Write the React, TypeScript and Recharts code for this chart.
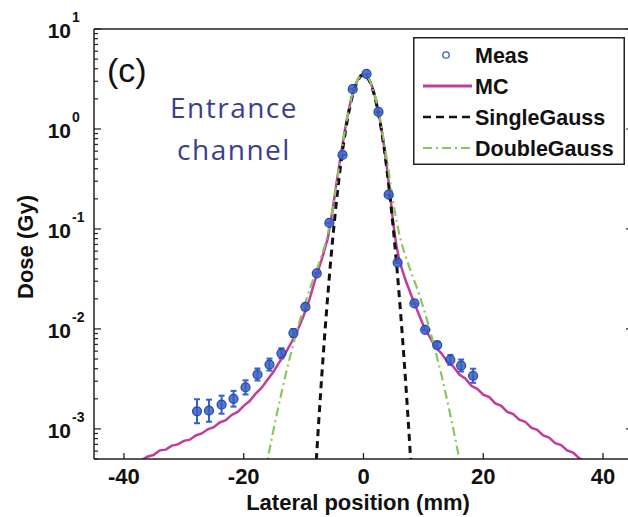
import { ComposedChart, Line, Scatter, XAxis, YAxis, ErrorBar, Legend } from "recharts";

const FONT = "'Liberation Sans', Arial, Helvetica, sans-serif";

const xTicks = [-40, -20, 0, 20, 40];
const yTicks = [
  0.0005, 0.0006, 0.0007, 0.0008, 0.0009,
  0.001, 0.002, 0.003, 0.004, 0.005, 0.006, 0.007, 0.008, 0.009,
  0.01, 0.02, 0.03, 0.04, 0.05, 0.06, 0.07, 0.08, 0.09,
  0.1, 0.2, 0.3, 0.4, 0.5, 0.6, 0.7, 0.8, 0.9,
  1, 2, 3, 4, 5, 6, 7, 8, 9, 10,
];

// measured points (Meas), with asymmetric error bars
const measX = [-27.8, -25.8, -23.7, -21.7, -19.7, -17.7, -15.7, -13.7, -11.7, -9.7, -7.8, -5.7, -3.5, -1.8, 0.5, 2.5, 4.2, 5.7, 8.5, 10.3, 12.3, 14.5, 16.3, 18.3];
const measY = [0.0015, 0.00152, 0.00175, 0.002, 0.0026, 0.0035, 0.0044, 0.0057, 0.0091, 0.0166, 0.036, 0.115, 0.55, 2.5, 3.55, 1.48, 0.22, 0.046, 0.018, 0.0098, 0.0069, 0.0049, 0.0043, 0.0034];
const measErrLow = [0.00036, 0.00034, 0.00033, 0.00033, 0.00039, 0.00045, 0.00057, 0.00062, 0.0008, 0.0011, 0, 0, 0, 0, 0, 0, 0, 0, 0, 0, 0.00046, 0.00053, 0.00055, 0.00051];
const measErrHigh = [0.00048, 0.00044, 0.0004, 0.0004, 0.00046, 0.00052, 0.00065, 0.0007, 0.00087, 0.0012, 0, 0, 0, 0, 0, 0, 0, 0, 0, 0, 0.0005, 0.0006, 0.00064, 0.0006];

// Monte Carlo
const mcX = [-37, -36, -35, -34, -33, -32, -31, -30, -29, -28, -27, -26, -25, -24, -23, -22, -21, -20, -19, -18, -17, -16, -15, -14, -13, -12, -11, -10, -9, -8, -7, -6, -5.5, -5, -4.5, -4, -3.5, -3, -2.5, -2, -1.5, -1, -0.5, 0, 0.5, 1, 1.5, 2, 2.5, 3, 3.5, 4, 4.5, 5, 5.5, 6, 7, 8, 9, 10, 11, 12, 13, 14, 15, 16, 17, 18, 19, 20, 21, 22, 23, 24, 25, 26, 27, 28, 29, 30, 31, 32, 33, 34, 35, 36, 37];
const mcY = [0.00049, 0.00053, 0.00055, 0.00061, 0.00062, 0.00068, 0.0007, 0.00076, 0.00078, 0.00086, 0.0009, 0.00099, 0.00104, 0.00116, 0.00122, 0.00138, 0.00148, 0.0017, 0.0019, 0.00226, 0.00258, 0.00312, 0.00375, 0.0047, 0.00575, 0.0074, 0.0097, 0.0135, 0.02, 0.032, 0.049, 0.079, 0.115, 0.18, 0.29, 0.45, 0.7, 1.06, 1.52, 2.06, 2.6, 3.08, 3.42, 3.53, 3.42, 3.08, 2.6, 2.04, 1.48, 1.0, 0.63, 0.37, 0.205, 0.11, 0.068, 0.048, 0.031, 0.0215, 0.0152, 0.0108, 0.0084, 0.0066, 0.0057, 0.0047, 0.0042, 0.0035, 0.0032, 0.0027, 0.00252, 0.0022, 0.00208, 0.0018, 0.0017, 0.00148, 0.00141, 0.00124, 0.00118, 0.00103, 0.00098, 0.00086, 0.00082, 0.00072, 0.00069, 0.00061, 0.00058, 0.00051, 0.00047];

// single Gaussian fit
const sgX = [-8, -7.5, -7, -6.5, -6, -5.5, -5, -4.5, -4, -3.5, -3, -2.5, -2, -1.5, -1, -0.5, 0, 0.5, 1, 1.5, 2, 2.5, 3, 3.5, 4, 4.5, 5, 5.5, 6, 6.5, 7, 7.5, 8];
const sgY = [0.00037, 0.00113, 0.0032, 0.0084, 0.0204, 0.0465, 0.098, 0.194, 0.356, 0.61, 0.97, 1.43, 1.98, 2.54, 3.03, 3.38, 3.5, 3.38, 3.03, 2.54, 1.98, 1.43, 0.97, 0.61, 0.356, 0.194, 0.098, 0.0465, 0.0204, 0.0084, 0.0032, 0.00113, 0.00037];

// double Gaussian fit
const dgX = [-17, -16, -15, -14, -13, -12, -11, -10, -9, -8, -7, -6.5, -6, -5.5, -5, -4.5, -4, -3.5, -3, -2.5, -2, -1.5, -1, -0.5, 0, 0.5, 1, 1.5, 2, 2.5, 3, 3.5, 4, 4.5, 5, 5.5, 6, 6.5, 7, 8, 9, 10, 11, 12, 13, 14, 15, 16, 17];
const dgY = [0.00024, 0.0005, 0.001, 0.0019, 0.0035, 0.0061, 0.0102, 0.0163, 0.025, 0.036, 0.054, 0.067, 0.087, 0.121, 0.18, 0.284, 0.45, 0.7, 1.06, 1.52, 2.06, 2.61, 3.1, 3.43, 3.55, 3.43, 3.1, 2.61, 2.06, 1.52, 1.06, 0.7, 0.45, 0.284, 0.18, 0.121, 0.087, 0.067, 0.054, 0.036, 0.025, 0.0163, 0.0102, 0.0061, 0.0035, 0.0019, 0.001, 0.0005, 0.00024];

const measData = measX.map((x, i) => ({ x, y: measY[i], err: [measErrLow[i], measErrHigh[i]] }));
const mcData = mcX.map((x, i) => ({ x, y: mcY[i] }));
const sgData = sgX.map((x, i) => ({ x, y: sgY[i] }));
const dgData = dgX.map((x, i) => ({ x, y: dgY[i] }));

const MEAS = "#3560c4";
const MC = "#c23c9c";
const SG = "#111111";
const DG = "#86c95a";

function XTick(props: any) {
  const { x, y, payload } = props;
  return (
    <g>
      <line x1={x} x2={x} y1={y} y2={y - 6} stroke="#222" strokeWidth={1.3} />
      <text x={x} y={y + 25} textAnchor="middle" fontFamily={FONT} fontWeight="bold" fontSize={22} fill="#111">
        {payload.value}
      </text>
    </g>
  );
}

function TopTick(props: any) {
  const { x, y } = props;
  return <line x1={x} x2={x} y1={y} y2={y + 6} stroke="#222" strokeWidth={1.3} />;
}

function isMajor(v: number) {
  const l = Math.log10(v);
  return Math.abs(l - Math.round(l)) < 1e-6;
}

function YTick(props: any) {
  const { x, y, payload } = props;
  const v = payload.value;
  const major = isMajor(v);
  const e = Math.round(Math.log10(v));
  return (
    <g>
      <line x1={x} x2={x + (major ? 7 : 4)} y1={y} y2={y} stroke="#222" strokeWidth={1.2} />
      {major && (
        <g fontFamily={FONT} fontWeight="bold" fill="#111">
          <text x={x - 23} y={y + 9} textAnchor="end" fontSize={21}>10</text>
          <text x={x - 22} y={y - 7} textAnchor="start" fontSize={14}>{e}</text>
        </g>
      )}
    </g>
  );
}

function RightTick(props: any) {
  const { x, y, payload } = props;
  const major = isMajor(payload.value);
  return <line x1={x} x2={x - (major ? 7 : 4)} y1={y} y2={y} stroke="#222" strokeWidth={1.2} />;
}

function MeasDot(props: any) {
  const { cx, cy } = props;
  if (cx == null || cy == null) return null;
  return <circle cx={cx} cy={cy} r={4.5} fill={MEAS} fillOpacity={0.85} stroke="#2a48a8" strokeWidth={1.2} />;
}

function LegendBox() {
  const rows = [
    { name: "Meas", kind: "dot" },
    { name: "MC", kind: "mc" },
    { name: "SingleGauss", kind: "sg" },
    { name: "DoubleGauss", kind: "dg" },
  ];
  return (
    <svg width={212} height={128} style={{ display: "block" }}>
      <rect x={0.75} y={0.75} width={210.5} height={126.5} fill="#fff" stroke="#222" strokeWidth={1.5} />
      {rows.map((r, i) => {
        const cy = 18 + i * 31;
        return (
          <g key={r.name}>
            {r.kind === "dot" && <circle cx={33} cy={cy} r={3.2} fill="none" stroke={MEAS} strokeWidth={1.3} />}
            {r.kind === "mc" && <line x1={10} x2={59} y1={cy} y2={cy} stroke={MC} strokeWidth={3} />}
            {r.kind === "sg" && <line x1={10} x2={59} y1={cy} y2={cy} stroke={SG} strokeWidth={2.6} strokeDasharray="8 5" />}
            {r.kind === "dg" && <line x1={10} x2={59} y1={cy} y2={cy} stroke={DG} strokeWidth={2} strokeDasharray="9 4 2 4" />}
            <text x={62} y={cy + 8} fontFamily={FONT} fontWeight="bold" fontSize={21.5} fill="#111">
              {r.name}
            </text>
          </g>
        );
      })}
    </svg>
  );
}

export default function App() {
  return (
    <div style={{ position: "absolute", left: 0, top: 0, width: 628, height: 517, overflow: "hidden", background: "#fff" }}>
      <ComposedChart width={640} height={517} margin={{ top: 0, right: 0, bottom: 0, left: 0 }}>
        <XAxis
          dataKey="x"
          type="number"
          domain={[-45, 45]}
          ticks={xTicks}
          interval={0}
          allowDataOverflow
          height={58}
          tickSize={0}
          tickMargin={0}
          tickLine={false}
          tick={<XTick />}
          axisLine={{ stroke: "#222", strokeWidth: 1.5 }}
        />
        <XAxis
          xAxisId="top"
          orientation="top"
          type="number"
          domain={[-45, 45]}
          ticks={xTicks}
          interval={0}
          allowDataOverflow
          height={29}
          tickSize={0}
          tickMargin={0}
          tickLine={false}
          tick={<TopTick />}
          axisLine={{ stroke: "#222", strokeWidth: 1.5 }}
        />
        <YAxis
          type="number"
          scale="log"
          domain={[0.0005, 10]}
          ticks={yTicks}
          interval={0}
          allowDataOverflow
          width={94}
          tickSize={0}
          tickMargin={0}
          tickLine={false}
          tick={<YTick />}
          axisLine={{ stroke: "#222", strokeWidth: 1.5 }}
        />
        <YAxis
          yAxisId="right"
          orientation="right"
          type="number"
          scale="log"
          domain={[0.0005, 10]}
          ticks={yTicks}
          interval={0}
          allowDataOverflow
          width={7}
          tickSize={0}
          tickMargin={0}
          tickLine={false}
          tick={<RightTick />}
          axisLine={{ stroke: "#222", strokeWidth: 1.5 }}
        />
        <Scatter name="Meas" data={measData} dataKey="y" shape={<MeasDot />} isAnimationActive={false}>
          <ErrorBar dataKey="err" direction="y" width={3} stroke={MEAS} strokeWidth={2} />
        </Scatter>
        <Line name="MC" data={mcData} dataKey="y" type="linear" stroke={MC} strokeWidth={2.5} dot={false} isAnimationActive={false} />
        <Line name="SingleGauss" data={sgData} dataKey="y" type="linear" stroke={SG} strokeWidth={3} strokeDasharray="7 5" dot={false} isAnimationActive={false} />
        <Line name="DoubleGauss" data={dgData} dataKey="y" type="linear" stroke={DG} strokeWidth={2.2} strokeDasharray="9 4 2 4" dot={false} isAnimationActive={false} />
        <Legend
          layout="vertical"
          align="center"
          verticalAlign="middle"
          content={() => <LegendBox />}
          wrapperStyle={{ left: 413, top: 37, width: 212, height: 128 }}
        />
      </ComposedChart>
      <svg width={628} height={517} style={{ position: "absolute", left: 0, top: 0, pointerEvents: "none" }}>
        <text x={107} y={82} fontFamily={FONT} fontSize={34} fill="#111">(c)</text>
        <g fontFamily="'Open Sans', 'Noto Sans', sans-serif" fontSize={28} fill="#3b3e8e" letterSpacing={1.5} textAnchor="middle">
          <text x={234} y={118}>Entrance</text>
          <text x={234} y={160}>channel</text>
        </g>
        <text x={33} y={247} transform="rotate(-90 33 247)" textAnchor="middle" fontFamily={FONT} fontWeight="bold" fontSize={22} fill="#111">
          Dose (Gy)
        </text>
        <text x={358} y={510} textAnchor="middle" fontFamily={FONT} fontWeight="bold" fontSize={22} fill="#111">
          Lateral position (mm)
        </text>
      </svg>
    </div>
  );
}
